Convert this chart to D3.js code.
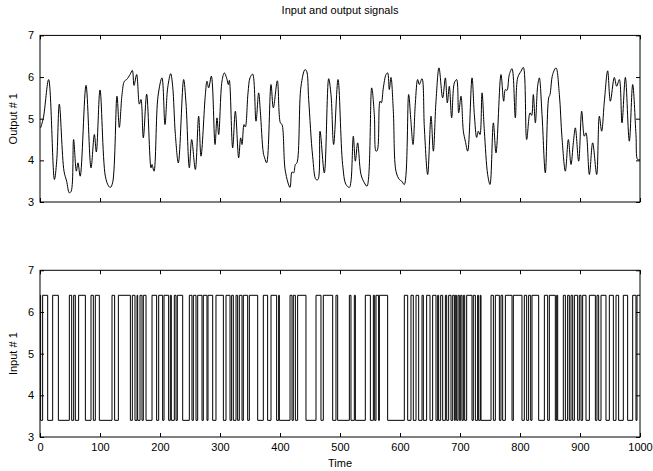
<!DOCTYPE html>
<html>
<head>
<meta charset="utf-8">
<script src="https://cdn.jsdelivr.net/npm/d3@7"></script>
<style>
  body { margin: 0; background: #fff; }
  text { font-family: "Liberation Sans", Arial, Helvetica, sans-serif; }
</style>
</head>
<body>
<script>
// Output signal (top panel)
const outputTimes = [1, 5.6, 14.4, 24, 27.8, 32.2, 40, 44.4, 48.9, 52, 56, 60.6, 63.3, 67, 76.7, 85, 90.6, 93.9, 100, 108.9, 114.4, 117.2, 121, 128.3, 132.2, 136.7, 140.6, 144.4, 150, 153.9, 156.7, 161.1,
  165.6, 168.3, 172.2, 177.8, 185, 186.7, 190, 196.7, 203.3, 208.3, 212.8, 217.8, 221.1, 225.6, 230.6, 239.4, 243.3, 248.9, 252.8, 258.9, 264.4, 268.3, 275.6, 278.3, 281.1, 285.6, 291.7, 295, 297.8, 303.3, 307.2, 311, 313.9, 315.6, 321.1, 325.6,
  331.1, 334.4, 336.7, 340, 342.2, 346.7, 350, 354.4, 360, 364.4, 367.2, 372.2, 374.4, 377.8, 385, 388.9, 395.6, 400.6, 403.3, 408.9, 416.7, 420, 422.8, 425.6, 428.3, 435, 441.7, 444.4, 447.8, 454.4, 460, 463.3, 466.7, 473.9, 481.1, 485, 489.4, 496.7,
  504.4, 510, 515.6, 518.3, 522.2, 525.6, 529.4, 535, 540.6, 545, 552.8, 557.2, 560, 562.2, 566.7, 568.9, 572.2, 576.7, 579.4, 582.2, 585, 588.9, 593.3, 598.9, 602.8, 607.2, 614.4, 617.8, 621.7, 625.6, 629.4, 632.2, 636.7, 640.6, 646.1, 651.7, 655.6, 660, 665,
  671.1, 675.6, 678.9, 682.2, 686.1, 690.6, 694.4, 697.8, 701.7, 705.6, 708.9, 712.8, 720, 723.9, 727.8, 730.6, 733.3, 736.7, 740.6, 746.1, 750, 755.6, 760, 768.3, 772.8, 775.6, 778.3, 782.2, 786.7, 792.2, 796.1, 801.7, 805.6, 811.1, 816.7, 819.4, 822.2, 825.6, 829.4,
  832.2, 836.7, 842.2, 847.8, 850, 854.4, 860, 865.6, 870, 875.6, 880.6, 885, 888.9, 892.2, 897.8, 902.8, 907.2, 910, 915.6, 921.1, 927.8, 932.2, 936.1, 940.6, 946.1, 950.6, 957.2, 961.1, 965.6, 970, 975.6, 982.2, 987.8, 993.3, 996.1, 1000]
const outputValues = [4.78, 5.02, 5.94, 3.54, 3.98, 5.35, 3.74, 3.5, 3.22, 3.26, 4.5, 3.74, 3.94, 3.62, 5.8, 3.82, 4.62, 4.2, 5.69, 3.62, 3.38, 3.35, 3.46, 5.54, 4.79, 5.58, 5.9, 5.94, 6.06, 6.16, 5.8, 6.06,
  5.35, 5.46, 4.54, 5.59, 3.82, 3.9, 3.74, 5.54, 5.98, 4.86, 5.74, 6.08, 5.78, 4.62, 3.94, 5.94, 5.38, 3.82, 4.5, 3.78, 5.06, 4.1, 5.58, 5.9, 5.74, 6.02, 4.38, 5.02, 4.62, 5.9, 6.1, 5.98, 5.82, 5.92, 4.3, 5.18,
  4.06, 4.54, 4.38, 4.86, 4.8, 5.62, 5.98, 6.07, 4.94, 5.62, 5.18, 4.18, 4.06, 3.94, 5.82, 5.26, 5.91, 4.9, 4.86, 3.74, 3.35, 3.72, 3.7, 3.9, 3.94, 5.78, 6.18, 6.14, 5.46, 4.1, 3.54, 3.54, 4.7, 3.7, 5.96, 5.58, 4.38, 5.94,
  3.9, 3.42, 3.35, 3.5, 4.58, 3.98, 4.42, 3.66, 3.46, 3.38, 5.74, 5.1, 4.22, 4.24, 5.42, 5.38, 5.74, 6.06, 6.1, 5.7, 5.99, 5.18, 3.74, 3.54, 3.5, 3.42, 5.58, 5.02, 4.38, 5.38, 5.94, 5.82, 5.96, 4.78, 3.66, 5.06, 4.22, 5.42, 6.22,
  5.5, 5.98, 5.38, 5.78, 5.02, 5.86, 5.94, 5.14, 5.54, 4.7, 4.46, 4.22, 5.98, 5.1, 4.55, 4.7, 4.62, 5.62, 4.7, 3.66, 3.42, 4.9, 4.18, 6.06, 5.42, 5.7, 5.68, 6.06, 6.2, 5.02, 5.98, 6.14, 6.23, 4.5, 5.14, 5.08, 5.58, 4.9, 5.78,
  5.98, 5.1, 3.7, 5.5, 5.58, 6.06, 6.22, 5.58, 4.54, 3.74, 4.5, 3.9, 4.42, 4.78, 3.98, 5.18, 4.58, 4.66, 3.66, 4.42, 3.66, 5.06, 4.7, 5.42, 6.15, 5.42, 5.99, 5.78, 5.94, 4.9, 5.99, 4.46, 5.82, 4.62, 4.02, 4.02]

// Input signal (bottom panel): switching times and the level held after each one
const inputTimes = [0, 1, 4.4, 12.8, 21.1, 30.6, 48.9, 52.8, 56.1, 58.9, 64.4, 75.6, 85, 88.9, 92.2, 98.9, 120, 124.4, 130.6, 150.6, 153.9, 158.3, 161.7,
  162.8, 166.7, 170, 172.2, 176.7, 186.7, 194.4, 197.8, 204.4, 206.7, 214.4, 217.2, 218.9, 223.9, 226.7, 228.9, 237.8, 248.9, 253.3, 255.6, 260, 262.8, 270, 272.2, 278.3, 280, 287.8, 293.3, 305.6, 310, 316.7, 319.4, 322.2, 326.7,
  329.4, 332.2, 336.7, 338.9, 346.1, 348.9, 362.8, 372.2, 379.4, 385, 394.4, 397.8, 398.9, 416.7, 420, 422.2, 425.6, 429.4, 443.3, 460, 468.3, 472.2, 487.8, 493.3,
  496.1, 515.6, 518.3, 523.9, 525.6, 542.2, 550.6, 555.6, 557.8, 560, 564.4, 565.6, 579.4, 607.2, 612.8, 618.3, 622.2, 626.7, 631.1, 636.7, 638.9, 644.4, 650, 654.4, 660, 662.8,
  664.4, 667.8, 671.1, 675.6, 677.8, 681.1, 685, 687.8, 690.6, 692.2, 694.4, 696.7, 698.9, 701.1, 703.3, 705.6, 707.8, 711.1, 720, 722.2, 725.6, 729.4, 731.1, 733.9, 735, 751.7, 755.6, 758.9, 765.6, 768.3, 771.1, 775.6, 786.7, 788.9, 803.3, 807.2, 811.1, 814.4, 817.8, 820,
  831.1, 840.6, 846.1, 848.9, 858.9, 861.1, 862.8, 872.2, 875.6, 879.4, 882.2, 885, 887.8, 890.6, 896.1, 898.9, 901.7, 904.4, 910, 915.6, 925.6, 928.3, 931.1, 935, 943.3, 948.9, 955.6, 960, 964.4, 972.2, 979.4, 987.8, 993.3, 995, 1000]
const inputLevels = [6.4, 3.4, 6.4, 3.4, 6.4, 3.4, 6.4, 3.4, 6.4, 3.4, 6.4, 3.4, 6.4, 3.4, 6.4, 3.4, 6.4, 3.4, 6.4, 3.4, 6.4, 3.4, 6.4,
  3.4, 6.4, 3.4, 6.4, 3.4, 6.4, 3.4, 6.4, 3.4, 6.4, 3.4, 6.4, 3.4, 6.4, 3.4, 6.4, 3.4, 6.4, 3.4, 6.4, 3.4, 6.4, 3.4, 6.4, 3.4, 6.4, 3.4, 6.4, 3.4, 6.4, 3.4, 6.4, 3.4, 6.4,
  3.4, 6.4, 3.4, 6.4, 3.4, 6.4, 3.4, 6.4, 3.4, 6.4, 3.4, 6.4, 3.4, 6.4, 3.4, 6.4, 3.4, 6.4, 3.4, 6.4, 3.4, 6.4, 3.4, 6.4,
  3.4, 6.4, 3.4, 6.4, 3.4, 6.4, 3.4, 6.4, 3.4, 6.4, 3.4, 6.4, 3.4, 6.4, 3.4, 6.4, 3.4, 6.4, 3.4, 6.4, 3.4, 6.4, 3.4, 6.4, 3.4, 6.4,
  3.4, 6.4, 3.4, 6.4, 3.4, 6.4, 3.4, 6.4, 3.4, 6.4, 3.4, 6.4, 3.4, 6.4, 3.4, 6.4, 3.4, 6.4, 3.4, 6.4, 3.4, 6.4, 3.4, 6.4, 3.4, 6.4, 3.4, 6.4, 3.4, 6.4, 3.4, 6.4, 3.4, 6.4, 3.4, 6.4, 3.4, 6.4, 3.4, 6.4,
  3.4, 6.4, 3.4, 6.4, 3.4, 6.4, 3.4, 6.4, 3.4, 6.4, 3.4, 6.4, 3.4, 6.4, 3.4, 6.4, 3.4, 6.4, 3.4, 6.4, 3.4, 6.4, 3.4, 6.4, 3.4, 6.4, 3.4, 6.4, 3.4, 6.4, 3.4, 6.4, 3.4, 6.4, 6.4]

const xTicks = [0, 100, 200, 300, 400, 500, 600, 700, 800, 900, 1000]
const yTicks = [3, 4, 5, 6, 7]

const w = 653
const h = 471

const svg = d3.select("body")
              .append("svg")
              .attr("width", w)
              .attr("height", h)

const x = d3.scaleLinear().domain([0, 1000]).range([40, 640])

// one panel: box, inward ticks, labels
const drawPanel = (top, bottom, ylabel, showX, points, curve) => {
  const y = d3.scaleLinear().domain([3, 7]).range([bottom, top])
  const g = svg.append("g")

  g.append("g")
    .attr("transform", `translate(0, ${bottom})`)
    .call(d3.axisBottom(x).tickValues(xTicks).tickSizeInner(-4).tickSizeOuter(0).tickPadding(6)
      .tickFormat(showX ? d3.format("d") : ""))
  g.append("g")
    .attr("transform", `translate(0, ${top})`)
    .call(d3.axisTop(x).tickValues(xTicks).tickSizeInner(-4).tickSizeOuter(0).tickFormat(""))
  g.append("g")
    .attr("transform", "translate(40, 0)")
    .call(d3.axisLeft(y).tickValues(yTicks).tickSizeInner(-4).tickSizeOuter(0).tickPadding(6).tickFormat(d3.format("d")))
  g.append("g")
    .attr("transform", "translate(640, 0)")
    .call(d3.axisRight(y).tickValues(yTicks).tickSizeInner(-4).tickSizeOuter(0).tickFormat(""))

  g.selectAll(".domain").remove()
  g.selectAll(".tick line").attr("stroke", "#000").attr("stroke-width", 1)
  g.selectAll(".tick text").attr("font-size", 11).attr("fill", "#000")
    .attr("font-family", "'Liberation Sans', Arial, sans-serif")

  g.append("rect")
    .attr("x", 40).attr("y", top)
    .attr("width", 600).attr("height", bottom - top)
    .attr("fill", "none").attr("stroke", "#000").attr("stroke-width", 1)

  const line = d3.line()
                 .x(d => x(d[0]))
                 .y(d => y(d[1]))
                 .curve(curve)

  g.append("path")
    .datum(points)
    .attr("fill", "none")
    .attr("stroke", "#000")
    .attr("stroke-width", 1)
    .attr("d", line)

  g.append("text")
    .attr("transform", `translate(17, ${(top + bottom) / 2}) rotate(-90)`)
    .attr("text-anchor", "middle")
    .attr("font-size", 11)
    .text(ylabel)
}

const outputPoints = outputTimes.map((t, i) => [t, outputValues[i]])
const inputPoints = inputTimes.map((t, i) => [t, inputLevels[i]])

drawPanel(35.4, 202, "Output # 1", false, outputPoints, d3.curveCatmullRom.alpha(0.5))
drawPanel(270.3, 437, "Input # 1", true, inputPoints, d3.curveStepAfter)

// title and x label
svg.append("text")
   .attr("x", 340).attr("y", 14)
   .attr("text-anchor", "middle")
   .attr("font-size", 11)
   .text("Input and output signals")

svg.append("text")
   .attr("x", 340).attr("y", 467)
   .attr("text-anchor", "middle")
   .attr("font-size", 11)
   .text("Time")
</script>
</body>
</html>
